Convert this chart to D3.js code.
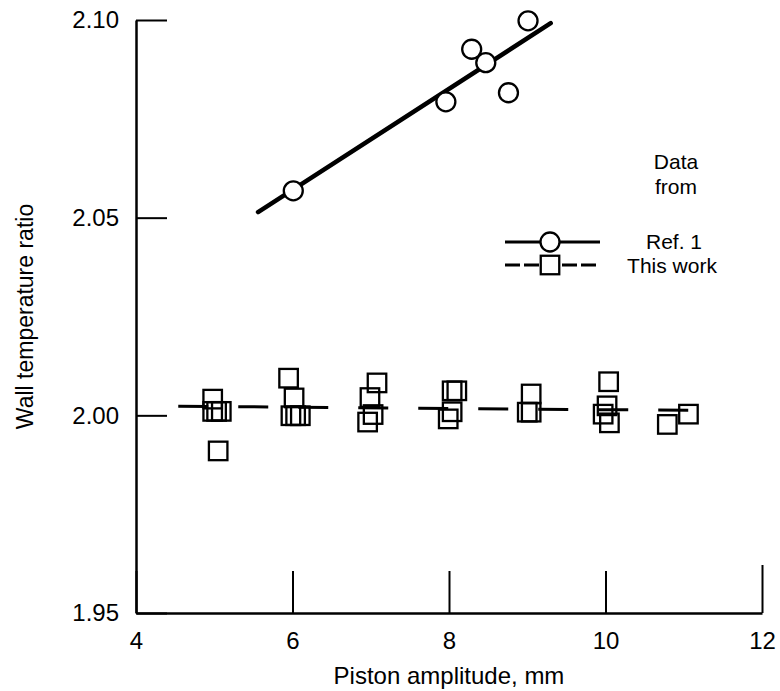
<!DOCTYPE html>
<meta charset="utf-8">
<title>Wall temperature ratio</title>
<style>
body { margin: 0; background: #fff; }
text { font-family: "Liberation Sans", Arial, sans-serif; fill: #000; }
</style>
<script src="https://d3js.org/d3.v7.min.js"></script>
<div id="chart"></div>
<script>

// Ref. 1 data (circles) and its fitted line
var refX = [6.01, 7.96, 8.29, 8.47, 8.76, 9.01];
var refY = [2.0568, 2.0793, 2.0926, 2.0892, 2.0816, 2.0998];
var refLineX = [5.56, 9.30];
var refLineY = [2.0514, 2.0992];

// This work data (squares) and its mean line
var workX = [4.98, 4.98, 5.03, 5.09, 5.05,
             5.95, 6.02, 5.98, 6.04, 6.10,
             7.08, 6.99, 7.03, 6.96,
             8.04, 8.10, 8.04, 7.99,
             9.05, 9.00, 9.05,
             10.04, 10.02, 9.97, 10.05,
             11.06, 10.79];
var workY = [2.0041, 2.0010, 2.0010, 2.0010, 1.9910,
             2.0094, 2.0044, 1.9999, 1.9999, 1.9999,
             2.0082, 2.0045, 2.0002, 1.9983,
             2.0062, 2.0062, 2.0009, 1.9991,
             2.0054, 2.0008, 2.0008,
             2.0085, 2.0024, 2.0003, 1.9981,
             2.0003, 1.9977];
var workLineX = [4.54, 11.43];
var workLineY = [2.0023, 2.0012];

var xTicks = [4, 6, 8, 10, 12];
var yTicks = [1.95, 2.00, 2.05, 2.10];

var width = 780, height = 691;
var fs = 24, lfs = 21;

var svg = d3.select("#chart").append("svg")
  .attr("width", width)
  .attr("height", height);

var x = d3.scaleLinear().domain([4, 12]).range([136, 762]);
var y = d3.scaleLinear().domain([1.95, 2.10]).range([613, 20]);

// axes, ticks pointing inward
svg.append("g")
  .attr("transform", "translate(" + x(4) + ",0)")
  .call(d3.axisLeft(y).tickValues(yTicks).tickFormat(d3.format(".2f"))
    .tickSize(-31).tickSizeOuter(0).tickPadding(17));

var xAxis = svg.append("g")
  .attr("transform", "translate(0," + y(1.95) + ")")
  .call(d3.axisBottom(x).tickValues(xTicks).tickFormat(d3.format("d"))
    .tickSize(-42).tickSizeOuter(0).tickPadding(19));

// the end tick at 12 stands a little taller
xAxis.selectAll(".tick line").filter(function(d) { return d === 12; }).attr("y2", -48);

svg.selectAll(".domain").attr("stroke", "#000").attr("stroke-width", 2.5);
svg.selectAll(".tick line").attr("stroke", "#000").attr("stroke-width", 2);
svg.selectAll(".tick text")
  .style("font-size", fs + "px")
  .style("font-family", "'Liberation Sans', Arial, sans-serif")
  .attr("fill", "#000");

// axis titles
svg.append("text")
  .attr("x", (x(4) + x(12)) / 2)
  .attr("y", 684)
  .attr("text-anchor", "middle")
  .style("font-size", fs + "px")
  .text("Piston amplitude, mm");

svg.append("text")
  .attr("transform", "translate(33," + (y(1.95) + y(2.10)) / 2 + ") rotate(-90)")
  .attr("text-anchor", "middle")
  .style("font-size", "23px")
  .text("Wall temperature ratio");

// Ref. 1 fitted line
var line = d3.line().x(function(d) { return x(d[0]); }).y(function(d) { return y(d[1]); });

svg.append("path")
  .datum(d3.zip(refLineX, refLineY))
  .attr("d", line)
  .attr("fill", "none")
  .attr("stroke", "#000")
  .attr("stroke-width", 4.5)
  .attr("stroke-linecap", "round");

// This work dashed line
svg.append("path")
  .datum(d3.zip(workLineX, workLineY))
  .attr("d", line)
  .attr("fill", "none")
  .attr("stroke", "#000")
  .attr("stroke-width", 3)
  .attr("stroke-dasharray", "30,30");

// squares
var side = 18.5;
svg.selectAll(".sq")
  .data(d3.zip(workX, workY))
  .enter().append("rect")
  .attr("class", "sq")
  .attr("x", function(d) { return x(d[0]) - side / 2; })
  .attr("y", function(d) { return y(d[1]) - side / 2; })
  .attr("width", side)
  .attr("height", side)
  .attr("fill", "none")
  .attr("stroke", "#000")
  .attr("stroke-width", 2.3);

// circles
svg.selectAll(".pt")
  .data(d3.zip(refX, refY))
  .enter().append("circle")
  .attr("class", "pt")
  .attr("cx", function(d) { return x(d[0]); })
  .attr("cy", function(d) { return y(d[1]); })
  .attr("r", 9.5)
  .attr("fill", "#fff")
  .attr("stroke", "#000")
  .attr("stroke-width", 2.3);

// legend
var lg = svg.append("g");
lg.append("text").attr("x", 676).attr("y", 169).attr("text-anchor", "middle")
  .style("font-size", lfs + "px").text("Data");
lg.append("text").attr("x", 676).attr("y", 194).attr("text-anchor", "middle")
  .style("font-size", lfs + "px").text("from");

lg.append("line").attr("x1", 505).attr("x2", 600).attr("y1", 242).attr("y2", 242)
  .attr("stroke", "#000").attr("stroke-width", 3);
lg.append("circle").attr("cx", 550).attr("cy", 242).attr("r", 9.5)
  .attr("fill", "#fff").attr("stroke", "#000").attr("stroke-width", 2.3);
lg.append("text").attr("x", 674).attr("y", 249).attr("text-anchor", "middle")
  .style("font-size", lfs + "px").text("Ref. 1");

lg.append("line").attr("x1", 505).attr("x2", 600).attr("y1", 265).attr("y2", 265)
  .attr("stroke", "#000").attr("stroke-width", 3)
  .attr("stroke-dasharray", "15,4");
lg.append("rect").attr("x", 550 - side / 2).attr("y", 265 - side / 2)
  .attr("width", side).attr("height", side)
  .attr("fill", "#fff").attr("stroke", "#000").attr("stroke-width", 2.3);
lg.append("text").attr("x", 672).attr("y", 273).attr("text-anchor", "middle")
  .style("font-size", lfs + "px").text("This work");

</script>
